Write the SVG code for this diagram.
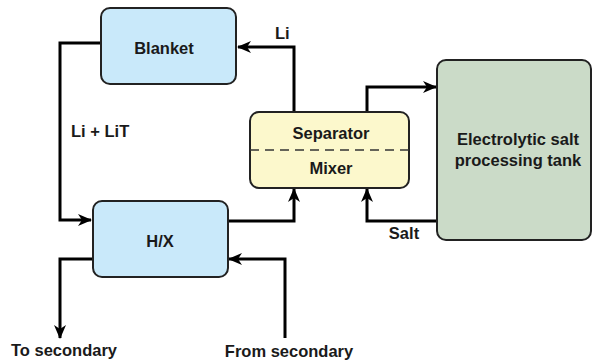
<svg xmlns="http://www.w3.org/2000/svg" width="593" height="362" viewBox="0 0 593 362">
<defs>
<marker id="arr" viewBox="0 0 14 12" refX="13" refY="6" markerWidth="14" markerHeight="12" markerUnits="userSpaceOnUse" orient="auto">
<path d="M0,0 L14,6 L0,12 L4,6 Z" fill="#000"/>
</marker>
</defs>
<style>
.box{stroke:#222;stroke-width:2}
.blue{fill:#c9e9fa}
.yel{fill:#fcf8cc}
.grn{fill:#cbdbc8}
.t{font-family:"Liberation Sans",Arial,sans-serif;font-weight:bold;font-size:16.5px;fill:#1a1a1a}
.c{text-anchor:middle}
.ln{fill:none;stroke:#000;stroke-width:3}
</style>
<rect width="593" height="362" fill="#fff"/>
<g id="connectors">
<polyline class="ln" points="101,43 60,43 60,220 91,220" marker-end="url(#arr)"/>
<polyline class="ln" points="294,112 294,47 238,47" marker-end="url(#arr)"/>
<polyline class="ln" points="367,112 367,87 436,87" marker-end="url(#arr)"/>
<polyline class="ln" points="437,221 367,221 367,189" marker-end="url(#arr)"/>
<polyline class="ln" points="229,221 294,221 294,189" marker-end="url(#arr)"/>
<polyline class="ln" points="93,259 60,259 60,338" marker-end="url(#arr)"/>
<polyline class="ln" points="285,338 285,259 229,259" marker-end="url(#arr)"/>
<text class="t" x="275" y="39">Li</text>
<text class="t" x="71" y="137">Li + LiT</text>
<text class="t c" x="404" y="239">Salt</text>
<text class="t c" x="64" y="356">To secondary</text>
<text class="t c" x="289" y="357">From secondary</text>
</g>
<g id="blanket">
<rect class="box blue" x="101" y="8" width="135" height="76" rx="9"/>
<text class="t c" x="164" y="54">Blanket</text>
</g>
<g id="hx">
<rect class="box blue" x="93" y="201" width="135" height="76" rx="9"/>
<text class="t c" x="160" y="247">H/X</text>
</g>
<g id="separator-mixer">
<rect class="box yel" x="250" y="112" width="159" height="76" rx="9"/>
<line x1="250" y1="150" x2="409" y2="150" stroke="#333" stroke-width="1.5" stroke-dasharray="9,6"/>
<text class="t c" x="331" y="139">Separator</text>
<text class="t c" x="331" y="174">Mixer</text>
</g>
<g id="tank">
<rect class="box grn" x="437" y="60" width="154" height="180" rx="9"/>
<text class="t c" x="518" y="145">Electrolytic salt</text>
<text class="t c" x="518" y="166">processing tank</text>
</g>
</svg>
